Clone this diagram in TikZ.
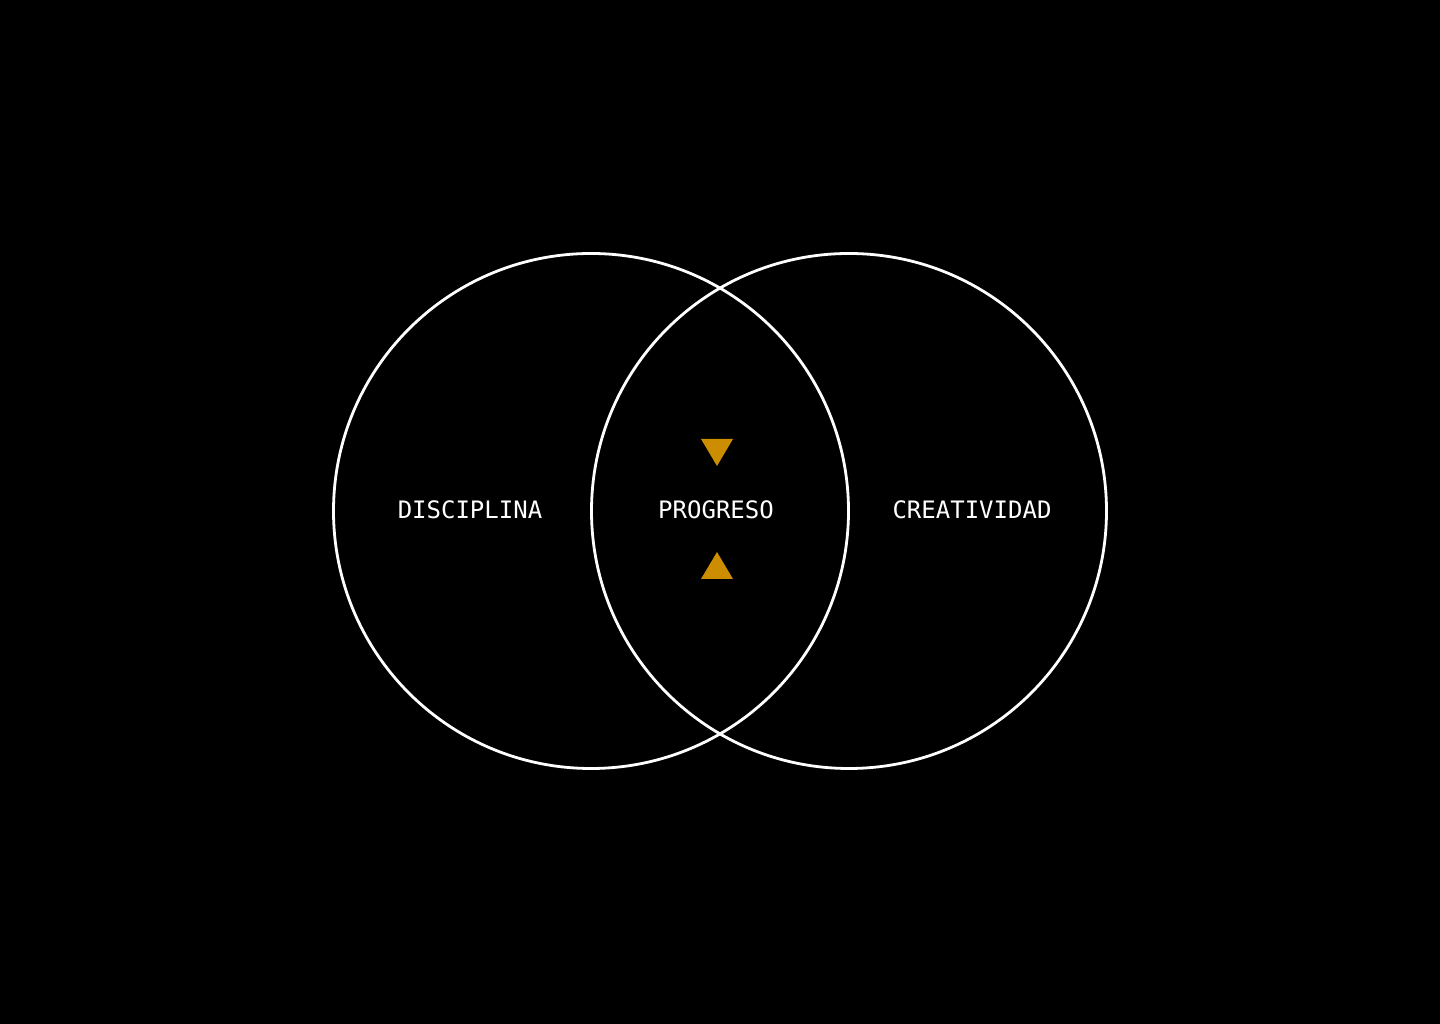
\documentclass[tikz,border=0pt]{standalone}
\usepackage{fontspec}
\setmonofont{DejaVu Sans Mono}
\usepackage{xcolor}
\usepackage{tikz}
\definecolor{oro}{HTML}{CC8E00}

\begin{document}
\begin{tikzpicture}[x=1pt, y=1pt,
	set/.style={draw=white, line width=2.8pt, circle, minimum size=515pt, inner sep=0pt},
	etiqueta/.style={text=white, font=\ttfamily\fontsize{24}{24}\selectfont, inner sep=0pt}]
	\fill[black] (0,0) rectangle (1440,1024);
	\useasboundingbox (0,0) rectangle (1440,1024);
	% conjuntos
	\node[set] (disciplina) at (591,513) {};
	\node[set] (creatividad) at (849,513) {};
	% textos
	\node[etiqueta] (tdisc) at (470,514) {DISCIPLINA};
	\node[etiqueta] (tprog) at (716,514) {PROGRESO};
	\node[etiqueta] (tcrea) at (972,514) {CREATIVIDAD};
	% triangulos
	\fill[oro] (701,585) -- (733,585) -- (717,558) -- cycle;
	\fill[oro] (701,445) -- (733,445) -- (717,472) -- cycle;
\end{tikzpicture}
\end{document}
